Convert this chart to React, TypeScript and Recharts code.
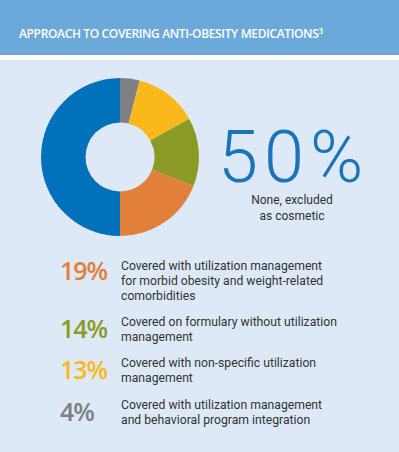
import React from "react";
import { PieChart, Pie, Cell } from "recharts";

const title = "APPROACH TO COVERING ANTI-OBESITY MEDICATIONS";
const categories = [
  "Behavioral program integration",
  "Non-specific UM",
  "Formulary without UM",
  "UM for morbid obesity",
  "None, excluded",
];
const shares = [4, 13, 14, 19, 50];
const colors = ["#7e8083", "#fbb81b", "#8b9a24", "#e17f3b", "#0071ba"];

const legendPcts = ["19%", "14%", "13%", "4%"];
const legendColors = ["#e17f3b", "#8b9a24", "#fbb81b", "#7e8083"];
const legendLines = [
  ["Covered with utilization management", "for morbid obesity and weight-related", "comorbidities"],
  ["Covered on formulary without utilization", "management"],
  ["Covered with non-specific utilization", "management"],
  ["Covered with utilization management", "and behavioral program integration"],
];
const legendBaselines = [280, 338, 379, 421];
const legendTextTops = [270, 326, 367, 409];

const data = categories.map((name, i) => ({ name, value: shares[i] }));

export default function App() {
  return (
    <div style={{ position: "absolute", left: 0, top: 0, width: 399, height: 452, background: "#dee9f7", overflow: "hidden" }}>
      <div style={{ position: "absolute", left: 0, top: 0, width: 399, height: 55, background: "#6ca9db" }} />
      <div style={{ position: "absolute", left: 0, top: 55, width: 399, height: 5, background: "#ffffff" }} />
      <div style={{ position: "absolute", left: 0, top: 0 }}>
        <PieChart width={399} height={452} margin={{ top: 0, right: 0, bottom: 0, left: 0 }}>
          <Pie
            data={data}
            dataKey="value"
            cx={120}
            cy={157}
            innerRadius={34.5}
            outerRadius={79}
            startAngle={90}
            endAngle={-270}
            stroke="none"
            isAnimationActive={false}
          >
            {data.map((_, i) => (
              <Cell key={`cell-${i}`} fill={colors[i]} />
            ))}
          </Pie>
        </PieChart>
      </div>
      <svg width={399} height={452} style={{ position: "absolute", left: 0, top: 0, pointerEvents: "none" }}>
        <text x={19} y={38} fill="#ffffff" fontFamily="Open Sans" fontWeight={600} fontSize={12} letterSpacing={-0.35}>
          {title}
          <tspan fontSize={8} dy={-4}>3</tspan>
        </text>
        <text x={218} y={182} fill="#1a74bb" fontFamily="Roboto" fontWeight={300} fontSize={72} letterSpacing={6}>
          {`${shares[4]}%`}
        </text>
        <text x={292} y={204} textAnchor="middle" fill="#2f2f2f" fontFamily="Roboto" fontSize={12}>None, excluded</text>
        <text x={292} y={220} textAnchor="middle" fill="#2f2f2f" fontFamily="Roboto" fontSize={12}>as cosmetic</text>
        {legendPcts.map((p, i) => (
          <text key={p} x={60} y={legendBaselines[i]} fill={legendColors[i]} fontFamily="Open Sans" fontWeight={600} fontSize={25} letterSpacing={-1}>
            {p}
          </text>
        ))}
        {legendLines.map((lines, i) =>
          lines.map((l, j) => (
            <text key={`${i}-${j}`} x={121} y={legendTextTops[i] + j * 14.8} fill="#333333" fontFamily="Roboto" fontSize={12.2}>
              {l}
            </text>
          ))
        )}
      </svg>
    </div>
  );
}
